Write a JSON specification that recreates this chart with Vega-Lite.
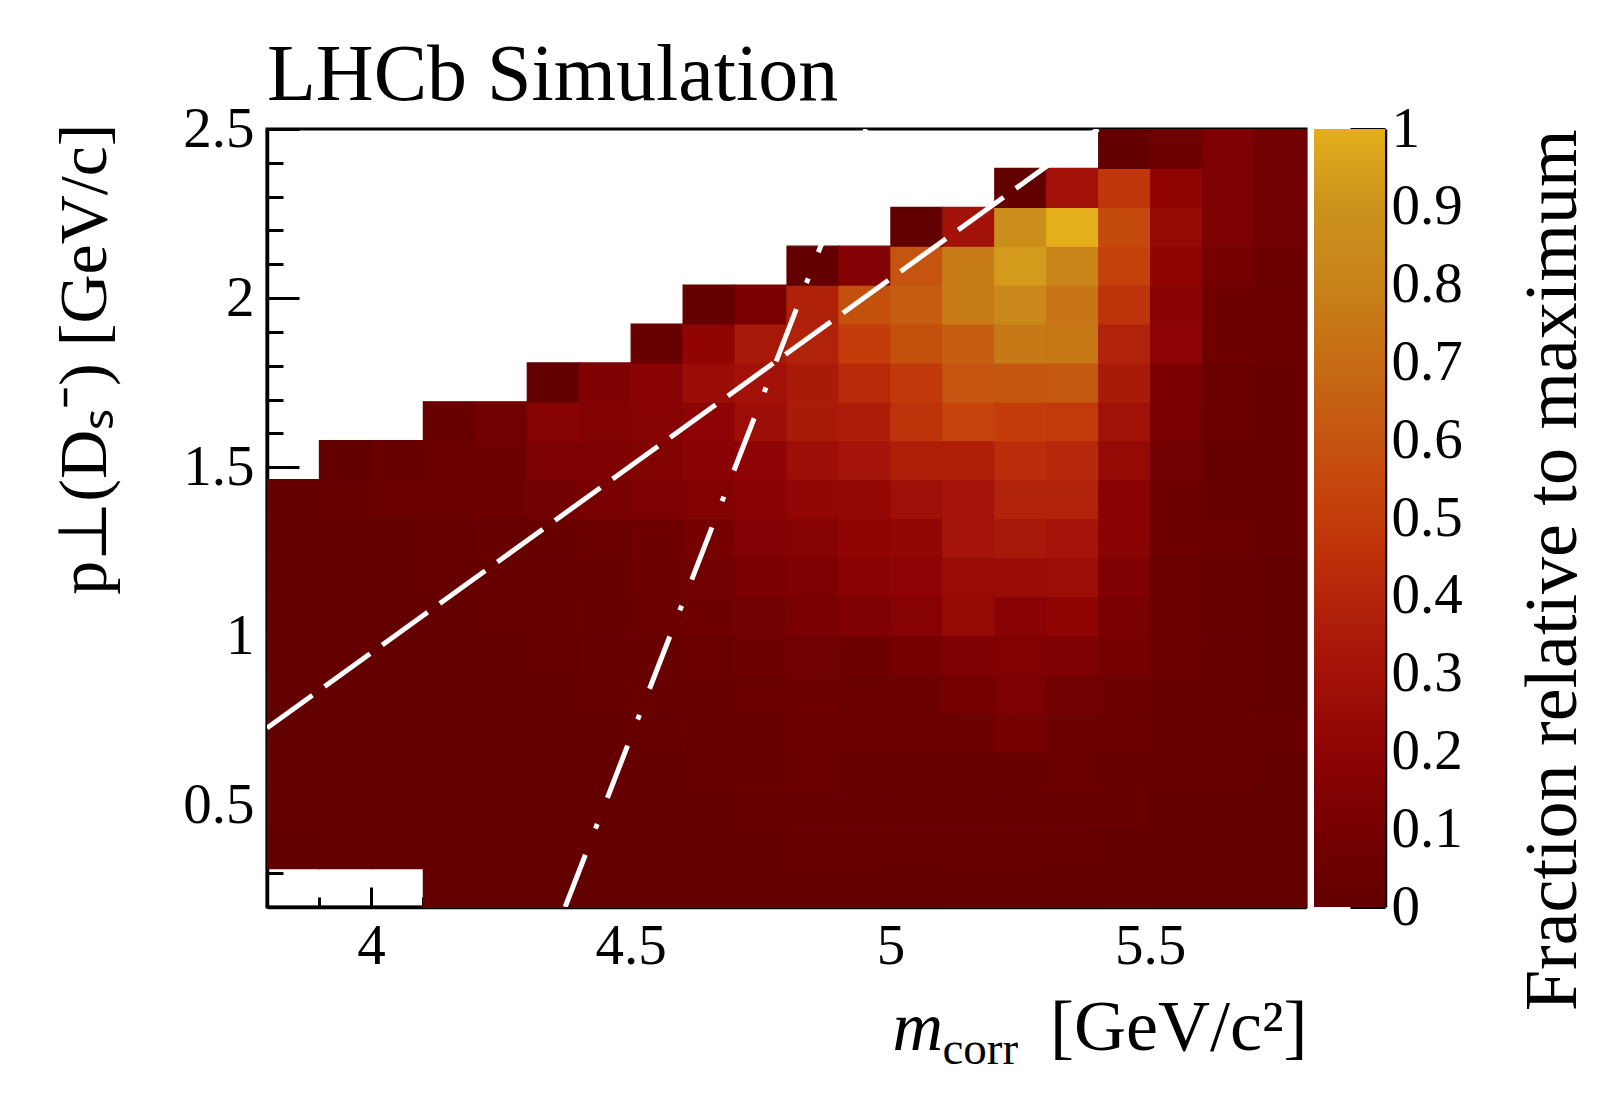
{
  "$schema": "https://vega.github.io/schema/vega-lite/v6.json",
  "background": "white",
  "padding": {"left": 49, "top": 34, "right": 5, "bottom": 5},
  "config": {
    "font": "Liberation Serif",
    "view": {"stroke": null},
    "concat": {"spacing": 5},
    "axis": {
      "labelFont": "Liberation Serif",
      "labelFontSize": 57,
      "labelColor": "black",
      "titleFont": "Liberation Serif",
      "titleFontWeight": "normal",
      "titleColor": "black",
      "domainColor": "black",
      "domainWidth": 3.5,
      "tickColor": "black",
      "tickWidth": 3,
      "grid": false,
      "zindex": 1,
      "labelFlush": false,
      "labelOverlap": false
    }
  },
  "datasets": {
    "cells": [
      {"m":4.1,"pt":0.2,"frac":0.005},{"m":4.2,"pt":0.2,"frac":0.005},{"m":4.3,"pt":0.2,"frac":0.005},{"m":4.4,"pt":0.2,"frac":0.005},{"m":4.5,"pt":0.2,"frac":0.01},{"m":4.6,"pt":0.2,"frac":0.01},{"m":4.7,"pt":0.2,"frac":0.01},{"m":4.8,"pt":0.2,"frac":0.01},{"m":4.9,"pt":0.2,"frac":0.01},{"m":5.0,"pt":0.2,"frac":0.005},{"m":5.1,"pt":0.2,"frac":0.01},{"m":5.2,"pt":0.2,"frac":0.01},{"m":5.3,"pt":0.2,"frac":0.005},{"m":5.4,"pt":0.2,"frac":0.01},{"m":5.5,"pt":0.2,"frac":0.005},{"m":5.6,"pt":0.2,"frac":0.005},{"m":5.7,"pt":0.2,"frac":0.005},

      {"m":3.8,"pt":0.315,"frac":0.0},{"m":3.9,"pt":0.315,"frac":0.005},{"m":4.0,"pt":0.315,"frac":0.005},{"m":4.1,"pt":0.315,"frac":0.005},{"m":4.2,"pt":0.315,"frac":0.005},{"m":4.3,"pt":0.315,"frac":0.01},{"m":4.4,"pt":0.315,"frac":0.01},{"m":4.5,"pt":0.315,"frac":0.01},{"m":4.6,"pt":0.315,"frac":0.01},{"m":4.7,"pt":0.315,"frac":0.015},{"m":4.8,"pt":0.315,"frac":0.02},{"m":4.9,"pt":0.315,"frac":0.02},{"m":5.0,"pt":0.315,"frac":0.02},{"m":5.1,"pt":0.315,"frac":0.02},{"m":5.2,"pt":0.315,"frac":0.02},{"m":5.3,"pt":0.315,"frac":0.02},{"m":5.4,"pt":0.315,"frac":0.015},{"m":5.5,"pt":0.315,"frac":0.01},{"m":5.6,"pt":0.315,"frac":0.01},{"m":5.7,"pt":0.315,"frac":0.01},

      {"m":3.8,"pt":0.43,"frac":0.005},{"m":3.9,"pt":0.43,"frac":0.005},{"m":4.0,"pt":0.43,"frac":0.005},{"m":4.1,"pt":0.43,"frac":0.005},{"m":4.2,"pt":0.43,"frac":0.01},{"m":4.3,"pt":0.43,"frac":0.01},{"m":4.4,"pt":0.43,"frac":0.01},{"m":4.5,"pt":0.43,"frac":0.01},{"m":4.6,"pt":0.43,"frac":0.015},{"m":4.7,"pt":0.43,"frac":0.02},{"m":4.8,"pt":0.43,"frac":0.03},{"m":4.9,"pt":0.43,"frac":0.03},{"m":5.0,"pt":0.43,"frac":0.03},{"m":5.1,"pt":0.43,"frac":0.03},{"m":5.2,"pt":0.43,"frac":0.03},{"m":5.3,"pt":0.43,"frac":0.03},{"m":5.4,"pt":0.43,"frac":0.03},{"m":5.5,"pt":0.43,"frac":0.01},{"m":5.6,"pt":0.43,"frac":0.01},{"m":5.7,"pt":0.43,"frac":0.01},

      {"m":3.8,"pt":0.545,"frac":0.005},{"m":3.9,"pt":0.545,"frac":0.005},{"m":4.0,"pt":0.545,"frac":0.005},{"m":4.1,"pt":0.545,"frac":0.01},{"m":4.2,"pt":0.545,"frac":0.01},{"m":4.3,"pt":0.545,"frac":0.01},{"m":4.4,"pt":0.545,"frac":0.01},{"m":4.5,"pt":0.545,"frac":0.015},{"m":4.6,"pt":0.545,"frac":0.02},{"m":4.7,"pt":0.545,"frac":0.03},{"m":4.8,"pt":0.545,"frac":0.045},{"m":4.9,"pt":0.545,"frac":0.035},{"m":5.0,"pt":0.545,"frac":0.035},{"m":5.1,"pt":0.545,"frac":0.035},{"m":5.2,"pt":0.545,"frac":0.035},{"m":5.3,"pt":0.545,"frac":0.045},{"m":5.4,"pt":0.545,"frac":0.035},{"m":5.5,"pt":0.545,"frac":0.03},{"m":5.6,"pt":0.545,"frac":0.03},{"m":5.7,"pt":0.545,"frac":0.01},

      {"m":3.8,"pt":0.66,"frac":0.005},{"m":3.9,"pt":0.66,"frac":0.005},{"m":4.0,"pt":0.66,"frac":0.01},{"m":4.1,"pt":0.66,"frac":0.01},{"m":4.2,"pt":0.66,"frac":0.01},{"m":4.3,"pt":0.66,"frac":0.01},{"m":4.4,"pt":0.66,"frac":0.015},{"m":4.5,"pt":0.66,"frac":0.02},{"m":4.6,"pt":0.66,"frac":0.03},{"m":4.7,"pt":0.66,"frac":0.035},{"m":4.8,"pt":0.66,"frac":0.055},{"m":4.9,"pt":0.66,"frac":0.045},{"m":5.0,"pt":0.66,"frac":0.055},{"m":5.1,"pt":0.66,"frac":0.045},{"m":5.2,"pt":0.66,"frac":0.1},{"m":5.3,"pt":0.66,"frac":0.055},{"m":5.4,"pt":0.66,"frac":0.045},{"m":5.5,"pt":0.66,"frac":0.035},{"m":5.6,"pt":0.66,"frac":0.03},{"m":5.7,"pt":0.66,"frac":0.03},

      {"m":3.8,"pt":0.775,"frac":0.005},{"m":3.9,"pt":0.775,"frac":0.01},{"m":4.0,"pt":0.775,"frac":0.01},{"m":4.1,"pt":0.775,"frac":0.01},{"m":4.2,"pt":0.775,"frac":0.01},{"m":4.3,"pt":0.775,"frac":0.015},{"m":4.4,"pt":0.775,"frac":0.02},{"m":4.5,"pt":0.775,"frac":0.03},{"m":4.6,"pt":0.775,"frac":0.035},{"m":4.7,"pt":0.775,"frac":0.045},{"m":4.8,"pt":0.775,"frac":0.065},{"m":4.9,"pt":0.775,"frac":0.045},{"m":5.0,"pt":0.775,"frac":0.055},{"m":5.1,"pt":0.775,"frac":0.1},{"m":5.2,"pt":0.775,"frac":0.13},{"m":5.3,"pt":0.775,"frac":0.085},{"m":5.4,"pt":0.775,"frac":0.065},{"m":5.5,"pt":0.775,"frac":0.035},{"m":5.6,"pt":0.775,"frac":0.03},{"m":5.7,"pt":0.775,"frac":0.01},

      {"m":3.8,"pt":0.89,"frac":0.01},{"m":3.9,"pt":0.89,"frac":0.01},{"m":4.0,"pt":0.89,"frac":0.01},{"m":4.1,"pt":0.89,"frac":0.01},{"m":4.2,"pt":0.89,"frac":0.015},{"m":4.3,"pt":0.89,"frac":0.02},{"m":4.4,"pt":0.89,"frac":0.025},{"m":4.5,"pt":0.89,"frac":0.035},{"m":4.6,"pt":0.89,"frac":0.045},{"m":4.7,"pt":0.89,"frac":0.065},{"m":4.8,"pt":0.89,"frac":0.075},{"m":4.9,"pt":0.89,"frac":0.065},{"m":5.0,"pt":0.89,"frac":0.1},{"m":5.1,"pt":0.89,"frac":0.14},{"m":5.2,"pt":0.89,"frac":0.15},{"m":5.3,"pt":0.89,"frac":0.14},{"m":5.4,"pt":0.89,"frac":0.1},{"m":5.5,"pt":0.89,"frac":0.045},{"m":5.6,"pt":0.89,"frac":0.03},{"m":5.7,"pt":0.89,"frac":0.01},

      {"m":3.8,"pt":1.005,"frac":0.01},{"m":3.9,"pt":1.005,"frac":0.01},{"m":4.0,"pt":1.005,"frac":0.01},{"m":4.1,"pt":1.005,"frac":0.015},{"m":4.2,"pt":1.005,"frac":0.02},{"m":4.3,"pt":1.005,"frac":0.02},{"m":4.4,"pt":1.005,"frac":0.03},{"m":4.5,"pt":1.005,"frac":0.045},{"m":4.6,"pt":1.005,"frac":0.065},{"m":4.7,"pt":1.005,"frac":0.085},{"m":4.8,"pt":1.005,"frac":0.11},{"m":4.9,"pt":1.005,"frac":0.14},{"m":5.0,"pt":1.005,"frac":0.17},{"m":5.1,"pt":1.005,"frac":0.24},{"m":5.2,"pt":1.005,"frac":0.185},{"m":5.3,"pt":1.005,"frac":0.21},{"m":5.4,"pt":1.005,"frac":0.11},{"m":5.5,"pt":1.005,"frac":0.045},{"m":5.6,"pt":1.005,"frac":0.03},{"m":5.7,"pt":1.005,"frac":0.01},

      {"m":3.8,"pt":1.12,"frac":0.01},{"m":3.9,"pt":1.12,"frac":0.01},{"m":4.0,"pt":1.12,"frac":0.015},{"m":4.1,"pt":1.12,"frac":0.02},{"m":4.2,"pt":1.12,"frac":0.02},{"m":4.3,"pt":1.12,"frac":0.025},{"m":4.4,"pt":1.12,"frac":0.035},{"m":4.5,"pt":1.12,"frac":0.055},{"m":4.6,"pt":1.12,"frac":0.075},{"m":4.7,"pt":1.12,"frac":0.12},{"m":4.8,"pt":1.12,"frac":0.135},{"m":4.9,"pt":1.12,"frac":0.18},{"m":5.0,"pt":1.12,"frac":0.2},{"m":5.1,"pt":1.12,"frac":0.25},{"m":5.2,"pt":1.12,"frac":0.26},{"m":5.3,"pt":1.12,"frac":0.27},{"m":5.4,"pt":1.12,"frac":0.14},{"m":5.5,"pt":1.12,"frac":0.045},{"m":5.6,"pt":1.12,"frac":0.03},{"m":5.7,"pt":1.12,"frac":0.01},

      {"m":3.8,"pt":1.235,"frac":0.01},{"m":3.9,"pt":1.235,"frac":0.01},{"m":4.0,"pt":1.235,"frac":0.015},{"m":4.1,"pt":1.235,"frac":0.02},{"m":4.2,"pt":1.235,"frac":0.025},{"m":4.3,"pt":1.235,"frac":0.03},{"m":4.4,"pt":1.235,"frac":0.04},{"m":4.5,"pt":1.235,"frac":0.065},{"m":4.6,"pt":1.235,"frac":0.1},{"m":4.7,"pt":1.235,"frac":0.16},{"m":4.8,"pt":1.235,"frac":0.17},{"m":4.9,"pt":1.235,"frac":0.21},{"m":5.0,"pt":1.235,"frac":0.22},{"m":5.1,"pt":1.235,"frac":0.31},{"m":5.2,"pt":1.235,"frac":0.33},{"m":5.3,"pt":1.235,"frac":0.31},{"m":5.4,"pt":1.235,"frac":0.18},{"m":5.5,"pt":1.235,"frac":0.065},{"m":5.6,"pt":1.235,"frac":0.045},{"m":5.7,"pt":1.235,"frac":0.03},

      {"m":3.8,"pt":1.35,"frac":0.01},{"m":3.9,"pt":1.35,"frac":0.035},{"m":4.0,"pt":1.35,"frac":0.045},{"m":4.1,"pt":1.35,"frac":0.045},{"m":4.2,"pt":1.35,"frac":0.065},{"m":4.3,"pt":1.35,"frac":0.085},{"m":4.4,"pt":1.35,"frac":0.11},{"m":4.5,"pt":1.35,"frac":0.13},{"m":4.6,"pt":1.35,"frac":0.15},{"m":4.7,"pt":1.35,"frac":0.185},{"m":4.8,"pt":1.35,"frac":0.22},{"m":4.9,"pt":1.35,"frac":0.23},{"m":5.0,"pt":1.35,"frac":0.28},{"m":5.1,"pt":1.35,"frac":0.31},{"m":5.2,"pt":1.35,"frac":0.38},{"m":5.3,"pt":1.35,"frac":0.38},{"m":5.4,"pt":1.35,"frac":0.185},{"m":5.5,"pt":1.35,"frac":0.065},{"m":5.6,"pt":1.35,"frac":0.035},{"m":5.7,"pt":1.35,"frac":0.035},

      {"m":3.9,"pt":1.465,"frac":0.0},{"m":4.0,"pt":1.465,"frac":0.035},{"m":4.1,"pt":1.465,"frac":0.045},{"m":4.2,"pt":1.465,"frac":0.065},{"m":4.3,"pt":1.465,"frac":0.13},{"m":4.4,"pt":1.465,"frac":0.13},{"m":4.5,"pt":1.465,"frac":0.15},{"m":4.6,"pt":1.465,"frac":0.185},{"m":4.7,"pt":1.465,"frac":0.2},{"m":4.8,"pt":1.465,"frac":0.27},{"m":4.9,"pt":1.465,"frac":0.31},{"m":5.0,"pt":1.465,"frac":0.36},{"m":5.1,"pt":1.465,"frac":0.36},{"m":5.2,"pt":1.465,"frac":0.43},{"m":5.3,"pt":1.465,"frac":0.41},{"m":5.4,"pt":1.465,"frac":0.24},{"m":5.5,"pt":1.465,"frac":0.085},{"m":5.6,"pt":1.465,"frac":0.035},{"m":5.7,"pt":1.465,"frac":0.035},

      {"m":4.1,"pt":1.58,"frac":0.03},{"m":4.2,"pt":1.58,"frac":0.085},{"m":4.3,"pt":1.58,"frac":0.17},{"m":4.4,"pt":1.58,"frac":0.15},{"m":4.5,"pt":1.58,"frac":0.17},{"m":4.6,"pt":1.58,"frac":0.2},{"m":4.7,"pt":1.58,"frac":0.27},{"m":4.8,"pt":1.58,"frac":0.34},{"m":4.9,"pt":1.58,"frac":0.35},{"m":5.0,"pt":1.58,"frac":0.46},{"m":5.1,"pt":1.58,"frac":0.53},{"m":5.2,"pt":1.58,"frac":0.5},{"m":5.3,"pt":1.58,"frac":0.49},{"m":5.4,"pt":1.58,"frac":0.29},{"m":5.5,"pt":1.58,"frac":0.11},{"m":5.6,"pt":1.58,"frac":0.045},{"m":5.7,"pt":1.58,"frac":0.035},

      {"m":4.3,"pt":1.695,"frac":0.0},{"m":4.4,"pt":1.695,"frac":0.14},{"m":4.5,"pt":1.695,"frac":0.185},{"m":4.6,"pt":1.695,"frac":0.26},{"m":4.7,"pt":1.695,"frac":0.3},{"m":4.8,"pt":1.695,"frac":0.34},{"m":4.9,"pt":1.695,"frac":0.42},{"m":5.0,"pt":1.695,"frac":0.48},{"m":5.1,"pt":1.695,"frac":0.6},{"m":5.2,"pt":1.695,"frac":0.61},{"m":5.3,"pt":1.695,"frac":0.62},{"m":5.4,"pt":1.695,"frac":0.34},{"m":5.5,"pt":1.695,"frac":0.12},{"m":5.6,"pt":1.695,"frac":0.045},{"m":5.7,"pt":1.695,"frac":0.035},

      {"m":4.5,"pt":1.81,"frac":0.035},{"m":4.6,"pt":1.81,"frac":0.21},{"m":4.7,"pt":1.81,"frac":0.33},{"m":4.8,"pt":1.81,"frac":0.38},{"m":4.9,"pt":1.81,"frac":0.5},{"m":5.0,"pt":1.81,"frac":0.58},{"m":5.1,"pt":1.81,"frac":0.64},{"m":5.2,"pt":1.81,"frac":0.76},{"m":5.3,"pt":1.81,"frac":0.75},{"m":5.4,"pt":1.81,"frac":0.38},{"m":5.5,"pt":1.81,"frac":0.2},{"m":5.6,"pt":1.81,"frac":0.065},{"m":5.7,"pt":1.81,"frac":0.045},

      {"m":4.6,"pt":1.925,"frac":0.01},{"m":4.7,"pt":1.925,"frac":0.12},{"m":4.8,"pt":1.925,"frac":0.37},{"m":4.9,"pt":1.925,"frac":0.58},{"m":5.0,"pt":1.925,"frac":0.63},{"m":5.1,"pt":1.925,"frac":0.77},{"m":5.2,"pt":1.925,"frac":0.84},{"m":5.3,"pt":1.925,"frac":0.74},{"m":5.4,"pt":1.925,"frac":0.46},{"m":5.5,"pt":1.925,"frac":0.19},{"m":5.6,"pt":1.925,"frac":0.065},{"m":5.7,"pt":1.925,"frac":0.045},

      {"m":4.8,"pt":2.04,"frac":0.0},{"m":4.9,"pt":2.04,"frac":0.16},{"m":5.0,"pt":2.04,"frac":0.6},{"m":5.1,"pt":2.04,"frac":0.77},{"m":5.2,"pt":2.04,"frac":0.93},{"m":5.3,"pt":2.04,"frac":0.82},{"m":5.4,"pt":2.04,"frac":0.52},{"m":5.5,"pt":2.04,"frac":0.21},{"m":5.6,"pt":2.04,"frac":0.1},{"m":5.7,"pt":2.04,"frac":0.055},

      {"m":5.0,"pt":2.155,"frac":0.0},{"m":5.1,"pt":2.155,"frac":0.3},{"m":5.2,"pt":2.155,"frac":0.87},{"m":5.3,"pt":2.155,"frac":1.0},{"m":5.4,"pt":2.155,"frac":0.55},{"m":5.5,"pt":2.155,"frac":0.24},{"m":5.6,"pt":2.155,"frac":0.135},{"m":5.7,"pt":2.155,"frac":0.075},

      {"m":5.2,"pt":2.27,"frac":0.0},{"m":5.3,"pt":2.27,"frac":0.3},{"m":5.4,"pt":2.27,"frac":0.47},{"m":5.5,"pt":2.27,"frac":0.21},{"m":5.6,"pt":2.27,"frac":0.13},{"m":5.7,"pt":2.27,"frac":0.085},

      {"m":5.4,"pt":2.385,"frac":0.0},{"m":5.5,"pt":2.385,"frac":0.055},{"m":5.6,"pt":2.385,"frac":0.13},{"m":5.7,"pt":2.385,"frac":0.075}
    ],
    "cutDiagonal": [
      {"m": 3.8, "pt": 0.729},
      {"m": 5.4, "pt": 2.5}
    ],
    "cutSteep": [
      {"m": 4.374, "pt": 0.2},
      {"m": 4.953, "pt": 2.5}
    ],
    "scaleRange": [
      {"lo": 0, "hi": 1}
    ]
  },
  "hconcat": [
    {
      "width": 1039,
      "height": 778,
      "title": {
        "text": "LHCb Simulation",
        "anchor": "start",
        "frame": "group",
        "font": "Liberation Serif",
        "fontSize": 80,
        "fontWeight": "normal",
        "color": "black",
        "offset": -17
      },
      "view": {"stroke": "black", "strokeWidth": 3},
      "resolve": {"axis": {"x": "independent", "y": "independent"}},
      "layer": [
        {
          "data": {"name": "cells"},
          "mark": {"type": "rect", "binSpacing": 0, "strokeWidth": 1.2},
          "encoding": {
            "x": {
              "field": "m",
              "type": "quantitative",
              "bin": {"binned": true, "step": 0.1},
              "scale": {"domain": [3.8, 5.8], "nice": false, "zero": false},
              "axis": {
                "orient": "bottom",
                "values": [4, 4.5, 5, 5.5],
                "format": "~g",
                "tickSize": -20,
                "labelPadding": 31,
                "title": "[GeV/c²]",
                "titleFontSize": 72,
                "titleX": 1040,
                "titleY": 142,
                "titleAlign": "right",
                "titleBaseline": "alphabetic"
              }
            },
            "y": {
              "field": "pt",
              "type": "quantitative",
              "bin": {"binned": true, "step": 0.115},
              "scale": {"domain": [0.2, 2.5], "nice": false, "zero": false},
              "axis": {
                "orient": "left",
                "values": [0.5, 1, 1.5, 2, 2.5],
                "format": "~g",
                "tickSize": -32,
                "labelPadding": 45,
                "title": "p⊥(Dₛ⁻) [GeV/c]",
                "titleFontSize": 68,
                "titleAngle": 270,
                "titleX": -162,
                "titleY": -6,
                "titleAlign": "right",
                "titleBaseline": "alphabetic"
              }
            },
            "fill": {
              "field": "frac",
              "type": "quantitative",
              "scale": {
                "domain": [0, 0.1, 0.2, 0.3, 0.4, 0.5, 0.6, 0.7, 0.8, 0.9, 1],
                "range": ["#620000", "#760000", "#8e0404", "#a21208", "#b4260a", "#c43c0a", "#c45410", "#c66c14", "#c8821a", "#cc921c", "#e4ae1c"]
              },
              "legend": null
            },
            "stroke": {
              "field": "frac",
              "type": "quantitative",
              "scale": {
                "domain": [0, 0.1, 0.2, 0.3, 0.4, 0.5, 0.6, 0.7, 0.8, 0.9, 1],
                "range": ["#620000", "#760000", "#8e0404", "#a21208", "#b4260a", "#c43c0a", "#c45410", "#c66c14", "#c8821a", "#cc921c", "#e4ae1c"]
              },
              "legend": null
            }
          }
        },
        {
          "data": {"name": "cutDiagonal"},
          "mark": {"type": "line", "color": "white", "strokeWidth": 5, "strokeDash": [56, 15], "strokeCap": "butt", "clip": true},
          "encoding": {
            "x": {
              "field": "m",
              "type": "quantitative",
              "axis": {
                "orient": "bottom",
                "values": [3.9, 4.1, 4.2, 4.3, 4.4, 4.6, 4.7, 4.8, 4.9, 5.1, 5.2, 5.3, 5.4, 5.6, 5.7],
                "tickSize": -10,
                "labels": false,
                "domain": false,
                "title": "m",
                "titleFontStyle": "italic",
                "titleFontSize": 70,
                "titleX": 625,
                "titleY": 142,
                "titleAlign": "left",
                "titleBaseline": "alphabetic"
              }
            },
            "y": {
              "field": "pt",
              "type": "quantitative",
              "axis": {
                "orient": "left",
                "values": [0.3, 0.4, 0.6, 0.7, 0.8, 0.9, 1.1, 1.2, 1.3, 1.4, 1.6, 1.7, 1.8, 1.9, 2.1, 2.2, 2.3, 2.4],
                "tickSize": -16,
                "labels": false,
                "domain": false,
                "title": null
              }
            }
          }
        },
        {
          "data": {"name": "cutSteep"},
          "mark": {"type": "line", "color": "white", "strokeWidth": 5, "strokeDash": [56, 28, 5, 28], "strokeCap": "butt", "clip": true},
          "encoding": {
            "x": {
              "field": "m",
              "type": "quantitative",
              "axis": {
                "orient": "bottom",
                "ticks": false,
                "labels": false,
                "domain": false,
                "title": "corr",
                "titleFontSize": 47,
                "titleX": 675,
                "titleY": 156,
                "titleAlign": "left",
                "titleBaseline": "alphabetic"
              }
            },
            "y": {"field": "pt", "type": "quantitative", "axis": null}
          }
        }
      ]
    },
    {
      "width": 71,
      "height": 778,
      "data": {"name": "scaleRange"},
      "mark": {
        "type": "rect",
        "color": {
          "gradient": "linear",
          "x1": 0, "y1": 1, "x2": 0, "y2": 0,
          "stops": [
            {"offset": 0, "color": "#620000"},
            {"offset": 0.1, "color": "#760000"},
            {"offset": 0.2, "color": "#8e0404"},
            {"offset": 0.3, "color": "#a21208"},
            {"offset": 0.4, "color": "#b4260a"},
            {"offset": 0.5, "color": "#c43c0a"},
            {"offset": 0.6, "color": "#c45410"},
            {"offset": 0.7, "color": "#c66c14"},
            {"offset": 0.8, "color": "#c8821a"},
            {"offset": 0.9, "color": "#cc921c"},
            {"offset": 1, "color": "#e4ae1c"}
          ]
        }
      },
      "encoding": {
        "y": {
          "field": "lo",
          "type": "quantitative",
          "scale": {"domain": [0, 1], "nice": false},
          "axis": {
            "orient": "right",
            "values": [0, 0.1, 0.2, 0.3, 0.4, 0.5, 0.6, 0.7, 0.8, 0.9, 1],
            "format": "~g",
            "tickSize": -35,
            "labelPadding": 41,
            "title": "Fraction relative to maximum",
            "titleFontSize": 74,
            "titleAngle": 270,
            "titleX": 190,
            "titleY": 0,
            "titleAlign": "right",
            "titleBaseline": "alphabetic"
          }
        },
        "y2": {"field": "hi"}
      }
    }
  ]
}
